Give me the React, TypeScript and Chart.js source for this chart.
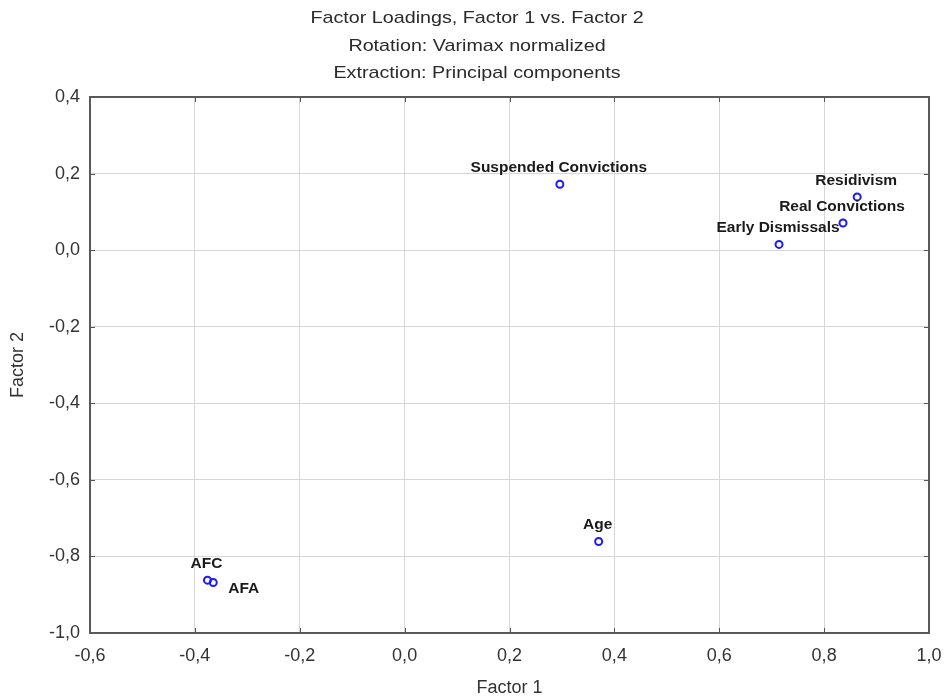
import React, { useEffect, useRef } from 'react';
import { Chart, registerables } from 'chart.js';

Chart.register(...registerables);

// ---- data ----
const titleLines = [
  'Factor Loadings, Factor 1 vs. Factor 2',
  'Rotation: Varimax normalized',
  'Extraction: Principal components',
];
const variableNames = [
  'Suspended Convictions',
  'Residivism',
  'Real Convictions',
  'Early Dismissals',
  'Age',
  'AFC',
  'AFA',
];
const factor1 = [0.296, 0.863, 0.836, 0.714, 0.37, -0.376, -0.365];
const factor2 = [0.172, 0.139, 0.071, 0.015, -0.761, -0.862, -0.868];
const xAxisTitle = 'Factor 1';
const yAxisTitle = 'Factor 2';
const xMin = -0.6;
const xMax = 1.0;
const yMin = -1.0;
const yMax = 0.4;
const tickStep = 0.2;

// ---- label placement style ----
const labelPlacement = ['above', 'above', 'above', 'above', 'above', 'above', 'right'];

const FONT = '"Liberation Sans", Arial, Helvetica, sans-serif';

const fmt = (v: number) => {
  const n = Math.abs(v) < 1e-9 ? 0 : v;
  return n.toFixed(1).replace('.', ',');
};

const decorPlugin = {
  id: 'decor',
  afterDraw(chart: any) {
    const { ctx, chartArea } = chart;
    const { left, right, top, bottom } = chartArea;
    const xs = chart.scales.x;
    const ys = chart.scales.y;
    ctx.save();
    // inward tick marks
    ctx.strokeStyle = '#555555';
    ctx.lineWidth = 1;
    const tl = 5;
    ctx.beginPath();
    xs.ticks.forEach((t: any) => {
      const px = Math.round(xs.getPixelForValue(t.value)) + 0.5;
      if (px <= left + 1 || px >= right - 1) return;
      ctx.moveTo(px, bottom);
      ctx.lineTo(px, bottom - tl);
      ctx.moveTo(px, top);
      ctx.lineTo(px, top + tl);
    });
    ys.ticks.forEach((t: any) => {
      const py = Math.round(ys.getPixelForValue(t.value)) + 0.5;
      if (py <= top + 1 || py >= bottom - 1) return;
      ctx.moveTo(left, py);
      ctx.lineTo(left + tl, py);
      ctx.moveTo(right, py);
      ctx.lineTo(right - tl, py);
    });
    ctx.stroke();
    // frame
    ctx.strokeStyle = '#5a5a5a';
    ctx.lineWidth = 2;
    ctx.strokeRect(left, top, right - left, bottom - top);

    // point labels
    ctx.fillStyle = '#1a1a1a';
    ctx.font = 'bold 15.5px ' + FONT;
    ctx.textBaseline = 'alphabetic';
    variableNames.forEach((name, i) => {
      const px = xs.getPixelForValue(factor1[i]);
      const py = ys.getPixelForValue(factor2[i]);
      if (labelPlacement[i] === 'right') {
        ctx.textAlign = 'left';
        ctx.fillText(name, px + 15, py + 10.5);
      } else {
        ctx.textAlign = 'center';
        ctx.fillText(name, px - 1, py - 12);
      }
    });

    // title
    ctx.fillStyle = '#2a2a2a';
    ctx.font = '17px ' + FONT;
    ctx.textAlign = 'center';
    const baselines = [23, 50.5, 78];
    titleLines.forEach((line, i) => {
      ctx.save();
      ctx.translate(477, baselines[i]);
      ctx.scale(1.16, 1);
      ctx.fillText(line, 0, 0);
      ctx.restore();
    });
    ctx.restore();
  },
};

export default function App() {
  const canvasRef = useRef<HTMLCanvasElement | null>(null);

  useEffect(() => {
    const canvas = canvasRef.current;
    if (!canvas) return;
    const points = factor1.map((x, i) => ({ x, y: factor2[i] }));
    const chart = new Chart(canvas, {
      type: 'scatter',
      data: {
        datasets: [
          {
            label: 'Loadings',
            data: points,
            pointRadius: 3.5,
            pointBorderWidth: 2,
            pointBorderColor: '#1a1aff',
            pointBackgroundColor: 'rgba(255,255,255,0)',
            showLine: false,
          },
        ],
      },
      options: {
        responsive: false,
        animation: false,
        layout: { padding: { top: 97, right: 16, bottom: 0, left: 0 } },
        plugins: {
          legend: { display: false },
          title: { display: false },
          tooltip: { enabled: false },
        },
        scales: {
          x: {
            type: 'linear',
            min: xMin,
            max: xMax,
            afterFit: (s: any) => {
              s.height = 66;
              s.paddingLeft = 0;
              s.paddingRight = 0;
            },
            ticks: {
              stepSize: tickStep,
              callback: (v: any) => fmt(Number(v)),
              font: { family: FONT, size: 18 },
              color: '#333333',
              padding: 12,
              maxRotation: 0,
            },
            grid: { color: '#d6d6d6', lineWidth: 1, drawTicks: false },
            border: { display: false },
            title: {
              display: true,
              text: xAxisTitle,
              font: { family: FONT, size: 18 },
              color: '#333333',
              padding: { top: 0, bottom: 0 },
            },
          },
          y: {
            type: 'linear',
            min: yMin,
            max: yMax,
            afterFit: (s: any) => {
              s.width = 90;
              s.paddingTop = 0;
              s.paddingBottom = 0;
            },
            ticks: {
              stepSize: tickStep,
              callback: (v: any) => fmt(Number(v)),
              font: { family: FONT, size: 18 },
              color: '#333333',
              padding: 10,
            },
            grid: { color: '#d6d6d6', lineWidth: 1, drawTicks: false },
            border: { display: false },
            title: {
              display: true,
              text: yAxisTitle,
              font: { family: FONT, size: 18 },
              color: '#333333',
              padding: { top: 7, bottom: 0 },
            },
          },
        },
      },
      plugins: [decorPlugin],
    });
    return () => chart.destroy();
  }, []);

  return (
    <div style={{ position: 'absolute', left: 0, top: 0, width: 945, height: 699, background: '#ffffff' }}>
      <canvas ref={canvasRef} width={945} height={699} style={{ display: 'block' }} />
    </div>
  );
}
